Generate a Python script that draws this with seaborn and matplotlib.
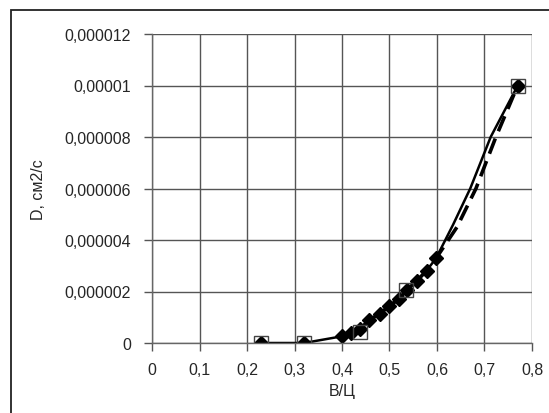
# -*- coding: utf-8 -*-
# D vs В/Ц
import matplotlib
matplotlib.use("Agg")
import matplotlib.pyplot as plt
import seaborn as sns
import numpy as np

# данные
x_exp = [0.23, 0.32, 0.40, 0.42, 0.438, 0.457, 0.479, 0.499, 0.52, 0.537, 0.558, 0.578, 0.598, 0.77]
d_exp = [0.0, 0.0, 0.26e-6, 0.38e-6, 0.54e-6, 0.89e-6, 1.13e-6, 1.43e-6, 1.71e-6, 2.07e-6, 2.42e-6, 2.81e-6, 3.29e-6, 1.0e-5]

x_solid = [0.23, 0.32, 0.40, 0.42, 0.438, 0.457, 0.479, 0.499, 0.52, 0.537, 0.558, 0.578, 0.598, 0.634, 0.670, 0.713, 0.77]
d_solid = [0.0, 0.0, 0.26e-6, 0.38e-6, 0.54e-6, 0.89e-6, 1.13e-6, 1.43e-6, 1.71e-6, 2.07e-6, 2.42e-6, 2.81e-6, 3.29e-6, 4.6e-6, 6.0e-6, 8.0e-6, 1.0e-5]

x_dash = [0.40, 0.42, 0.438, 0.457, 0.479, 0.499, 0.52, 0.537, 0.558, 0.578, 0.598, 0.642, 0.682, 0.724, 0.77]
d_dash = [0.26e-6, 0.38e-6, 0.54e-6, 0.89e-6, 1.13e-6, 1.43e-6, 1.71e-6, 2.07e-6, 2.42e-6, 2.81e-6, 3.29e-6, 4.5e-6, 6.0e-6, 8.0e-6, 1.0e-5]

x_sq = [0.23, 0.32, 0.438, 0.535, 0.77]
d_sq = [0.0, 0.0, 0.44e-6, 2.06e-6, 1.0e-5]

xticks = [0, 0.1, 0.2, 0.3, 0.4, 0.5, 0.6, 0.7, 0.8]
yticks = [0, 2e-6, 4e-6, 6e-6, 8e-6, 1e-5, 1.2e-5]
ylabels = ["0", "0,000002", "0,000004", "0,000006", "0,000008", "0,00001", "0,000012"]

sns.set_style("white")
plt.rcParams['font.family'] = ['Liberation Sans', 'DejaVu Sans']

fig = plt.figure(figsize=(5.49, 4.14), dpi=100)
ax = fig.add_axes([152/549, 1-344/414, 380/549, 309/414])

# рамка вокруг рисунка
fig.patches.append(plt.Rectangle((11/549, -0.1), 1.2, 1 - 11/414 + 0.1,
                                 transform=fig.transFigure, fill=False,
                                 edgecolor='#222222', linewidth=1.3))

sns.lineplot(x=x_solid, y=d_solid, ax=ax, color='black', linewidth=1.8, sort=False)
sns.lineplot(x=x_dash, y=d_dash, ax=ax, color='black', linewidth=2.6,
             linestyle=(0, (4.5, 2.2)), sort=False)
ax.plot(x_exp, d_exp, linestyle='none', marker='D', markersize=7.5, color='black')
ax.plot(x_sq, d_sq, linestyle='none', marker='s', markersize=10.5,
        markerfacecolor='none', markeredgecolor='#444444', markeredgewidth=1.0)

ax.set_xlim(0, 0.8)
ax.set_ylim(0, 1.2e-5)
ax.set_xticks(xticks)
ax.set_xticklabels([f"{t:g}".replace('.', ',') for t in xticks])
ax.set_yticks(yticks)
ax.set_yticklabels(ylabels)
ax.grid(True, color='#555555', linewidth=1.0)
ax.set_axisbelow(True)
for s in ['top', 'right']:
    ax.spines[s].set_visible(False)
for s in ['left', 'bottom']:
    ax.spines[s].set_color('#666666')
    ax.spines[s].set_linewidth(1.0)
ax.tick_params(axis='both', direction='out', length=6, width=1, color='#555555',
               labelsize=11.5, left=True, bottom=True)
ax.tick_params(axis='y', pad=9)
ax.tick_params(axis='x', pad=8)

ax.set_xlabel("В/Ц", fontsize=11.5, labelpad=4)
ax.set_ylabel("D, см2/с", fontsize=11.5)
ax.yaxis.set_label_coords(-0.28, 0.5)

fig.savefig("out.png", dpi=100)
